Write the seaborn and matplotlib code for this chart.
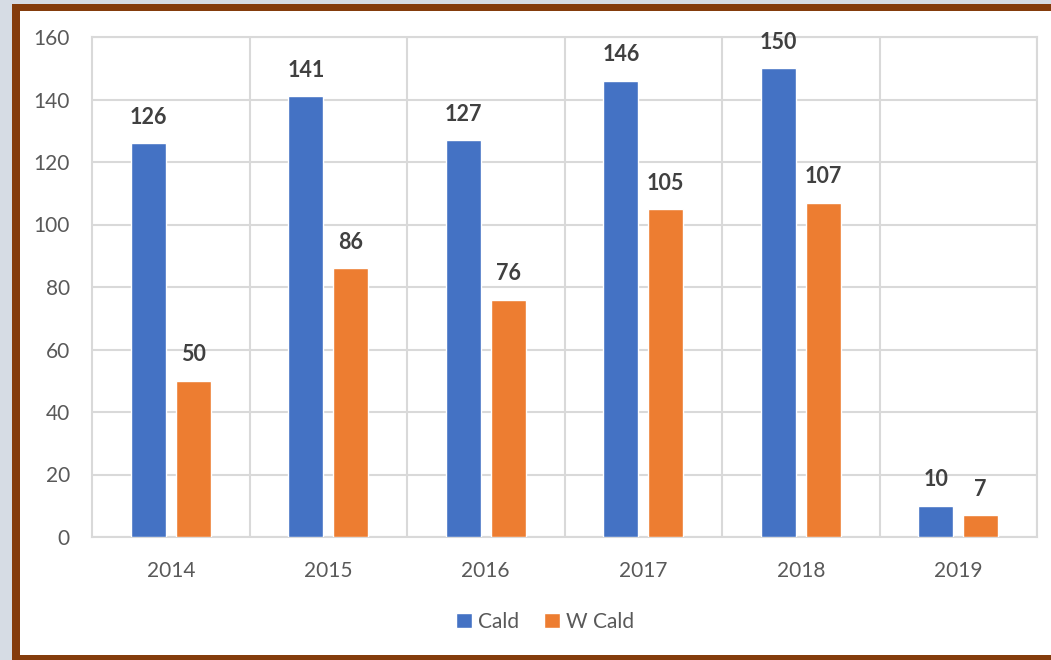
import numpy as np
import pandas as pd
import seaborn as sns
import matplotlib.pyplot as plt
from matplotlib.patches import Rectangle, Patch

# values
years = ["2014", "2015", "2016", "2017", "2018", "2019"]
cald = [126, 141, 127, 146, 150, 10]
w_cald = [50, 86, 76, 105, 107, 7]
series = ["Cald", "W Cald"]
colors = ["#4472c4", "#ed7d31"]

df = pd.DataFrame({
    "year": years * 2,
    "value": cald + w_cald,
    "series": [series[0]] * len(years) + [series[1]] * len(years),
})

sns.set_style("white")
plt.rcParams["font.family"] = ["Lato", "DejaVu Sans"]

W, H = 1051, 660
fig = plt.figure(figsize=(W / 100, H / 100), dpi=100, facecolor="#d6dce4")

# brown frame with white panel (behind the axes)
fig.patches.append(Rectangle((12 / W, -0.05), 1.1, 656 / H + 0.05, transform=fig.transFigure,
                             facecolor="#843c0c", edgecolor="none", zorder=-2))
fig.patches.append(Rectangle((20 / W, 5 / H), 1.1, 644 / H, transform=fig.transFigure,
                             facecolor="white", edgecolor="none", zorder=-1))

ax = fig.add_axes([92 / W, 123 / H, 945 / W, 500 / H])
ax.set_facecolor("none")

sns.barplot(data=df, x="year", y="value", hue="series", palette=colors, saturation=1,
            width=0.57, gap=0.22, ax=ax, legend=False, zorder=3)

for cont in ax.containers:
    ax.bar_label(cont, padding=11, fontsize=15.5, fontweight="bold", color="#404040")

ax.set_xlim(-0.5, 5.5)
ax.set_ylim(0, 160)
ax.set_yticks(np.arange(0, 161, 20))
ax.set_xticks(np.arange(6.0) + 0.5, minor=True)
ax.grid(True, which="major", axis="y", color="#d9d9d9", lw=1.5, zorder=0)
ax.grid(True, which="minor", axis="x", color="#d9d9d9", lw=1.5, zorder=0)
ax.set_axisbelow(True)
ax.tick_params(which="both", length=0)
ax.tick_params(axis="y", pad=16, labelsize=15, labelcolor="#595959")
ax.tick_params(axis="x", pad=17, labelsize=15, labelcolor="#595959")
for s in ax.spines.values():
    s.set_color("#d9d9d9")
    s.set_linewidth(1.5)
ax.set_xlabel("")
ax.set_ylabel("")

handles = [Patch(facecolor=c, label=l) for c, l in zip(colors, series)]
fig.legend(handles=handles, loc="center", bbox_to_anchor=(545 / W, 1 - 622 / H), ncol=2,
           frameon=False, fontsize=15, labelcolor="#595959", handlelength=0.75,
           handleheight=0.75, handletextpad=0.3, columnspacing=1.2)

fig.savefig("out.png", dpi=100, facecolor=fig.get_facecolor())
